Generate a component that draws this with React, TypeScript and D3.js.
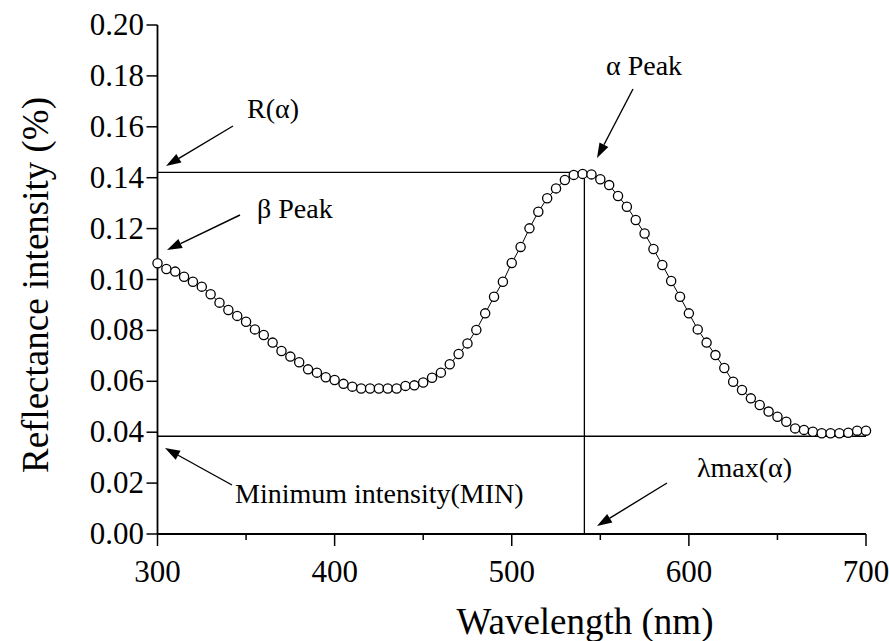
import * as d3 from "d3";

// Reflectance spectrum, 5 nm steps
const WAVELENGTHS = d3.range(300, 701, 5);
const REFLECTANCE = [
  0.1064, 0.1041, 0.1031, 0.1011, 0.0991, 0.0972, 0.0942, 0.0909, 0.088, 0.0857,
  0.0834, 0.0804, 0.0782, 0.0752, 0.0719, 0.0697, 0.0675, 0.0647, 0.0634, 0.0616,
  0.0605, 0.059, 0.0579, 0.0572, 0.0572, 0.0572, 0.0572, 0.0572, 0.0582, 0.0584,
  0.0595, 0.0614, 0.0634, 0.0667, 0.0707, 0.0749, 0.0802, 0.0867, 0.0932, 0.0991,
  0.1065, 0.1128, 0.1201, 0.1266, 0.1319, 0.1358, 0.1391, 0.1411, 0.1415, 0.1413,
  0.1394, 0.1371, 0.1328, 0.1286, 0.1234, 0.1181, 0.112, 0.1057, 0.0994, 0.0932,
  0.0867, 0.0804, 0.0752, 0.0703, 0.0652, 0.0598, 0.0566, 0.0533, 0.0507, 0.0481,
  0.0461, 0.0441, 0.0415, 0.0409, 0.0402, 0.0396, 0.0396, 0.0396, 0.0398, 0.0406,
  0.0406,
];

const X_MAJOR = [300, 400, 500, 600, 700];
const X_MINOR = [350, 450, 550, 650];
const Y_TICKS = [0, 0.02, 0.04, 0.06, 0.08, 0.1, 0.12, 0.14, 0.16, 0.18, 0.2];

const R_ALPHA = 0.1421;
const MIN_INTENSITY = 0.0384;
const LAMBDA_MAX = 541;

const W = 889;
const H = 641;
const FONT = '"Liberation Serif"';

type Note = { text: string; x: number; y: number; anchor: "start" | "end"; from: [number, number]; to: [number, number] };

const NOTES: Note[] = [
  { text: "R(α)", x: 247, y: 118, anchor: "start", from: [233, 126], to: [166, 166] },
  { text: "β Peak", x: 257, y: 218, anchor: "start", from: [240, 215], to: [167, 250] },
  { text: "α Peak", x: 606, y: 75, anchor: "start", from: [633, 89], to: [597, 158] },
  { text: "Minimum intensity(MIN)", x: 235, y: 503, anchor: "start", from: [232, 485], to: [165, 448] },
  { text: "λmax(α)", x: 792, y: 477, anchor: "end", from: [667, 483], to: [597, 526] },
];

const x = d3.scaleLinear().domain([300, 700]).range([157.5, 866]);
const y = d3.scaleLinear().domain([0, 0.2]).range([534, 25]);

function Arrow({ from, to }: { from: [number, number]; to: [number, number] }) {
  const [fx, fy] = from;
  const [tx, ty] = to;
  const ang = Math.atan2(ty - fy, tx - fx);
  const len = 15;
  const half = 5;
  const bx = tx - len * Math.cos(ang);
  const by = ty - len * Math.sin(ang);
  const px = -Math.sin(ang);
  const py = Math.cos(ang);
  const pts = [
    [tx, ty],
    [bx + px * half, by + py * half],
    [bx - px * half, by - py * half],
  ];
  return (
    <g>
      <line x1={fx} y1={fy} x2={bx} y2={by} stroke="#000" strokeWidth={1.4} />
      <polygon points={pts.map((p) => p.join(",")).join(" ")} fill="#000" />
    </g>
  );
}

export default function App() {
  const pts = WAVELENGTHS.map((w, i) => [w, REFLECTANCE[i]] as [number, number]);
  const linePath =
    d3
      .line<[number, number]>()
      .x((d) => x(d[0]))
      .y((d) => y(d[1]))(pts) ?? "";
  const textStyle = (size: number) => ({ fontFamily: FONT, fontSize: `${size}px` });

  return (
    <div style={{ position: "absolute", left: 0, top: 0, width: W, height: H, background: "#fff" }}>
      <svg width={W} height={H} style={{ display: "block" }}>
        {/* reference lines */}
        <line x1={x(300)} x2={x(LAMBDA_MAX)} y1={y(R_ALPHA)} y2={y(R_ALPHA)} stroke="#000" strokeWidth={1.3} />
        <line x1={x(300)} x2={x(700)} y1={y(MIN_INTENSITY)} y2={y(MIN_INTENSITY)} stroke="#000" strokeWidth={1.3} />
        <line x1={x(LAMBDA_MAX)} x2={x(LAMBDA_MAX)} y1={y(R_ALPHA)} y2={y(0)} stroke="#000" strokeWidth={1.3} />

        {/* axes */}
        <line x1={x(300)} x2={x(300)} y1={y(0.2)} y2={y(0)} stroke="#000" strokeWidth={1.8} />
        <line x1={x(300)} x2={x(700)} y1={y(0)} y2={y(0)} stroke="#000" strokeWidth={1.8} />

        {Y_TICKS.map((t) => (
          <g key={`y${t}`}>
            <line x1={x(300) - 11} x2={x(300)} y1={y(t)} y2={y(t)} stroke="#000" strokeWidth={1.5} />
            <text x={144} y={y(t) + 10} textAnchor="end" style={textStyle(31)}>
              {d3.format(".2f")(t)}
            </text>
          </g>
        ))}
        {X_MAJOR.map((t) => (
          <g key={`x${t}`}>
            <line x1={x(t)} x2={x(t)} y1={y(0)} y2={y(0) + 12} stroke="#000" strokeWidth={1.5} />
            <text x={x(t)} y={582} textAnchor="middle" style={textStyle(31)}>
              {t}
            </text>
          </g>
        ))}
        {X_MINOR.map((t) => (
          <line key={`m${t}`} x1={x(t)} x2={x(t)} y1={y(0)} y2={y(0) + 6} stroke="#000" strokeWidth={1.5} />
        ))}

        {/* titles */}
        <text x={585} y={634} textAnchor="middle" style={textStyle(37)}>
          Wavelength (nm)
        </text>
        <text transform={`translate(48, 285) rotate(-90)`} textAnchor="middle" style={textStyle(37)}>
          Reflectance intensity (%)
        </text>

        {/* series */}
        <path d={linePath} fill="none" stroke="#000" strokeWidth={1} />
        {pts.map((d) => (
          <circle key={d[0]} cx={x(d[0])} cy={y(d[1])} r={4.6} fill="#fff" stroke="#000" strokeWidth={1.3} />
        ))}

        {/* annotations */}
        {NOTES.map((n) => (
          <g key={n.text}>
            <text x={n.x} y={n.y} textAnchor={n.anchor} style={textStyle(28)}>
              {n.text}
            </text>
            <Arrow from={n.from} to={n.to} />
          </g>
        ))}
      </svg>
    </div>
  );
}
